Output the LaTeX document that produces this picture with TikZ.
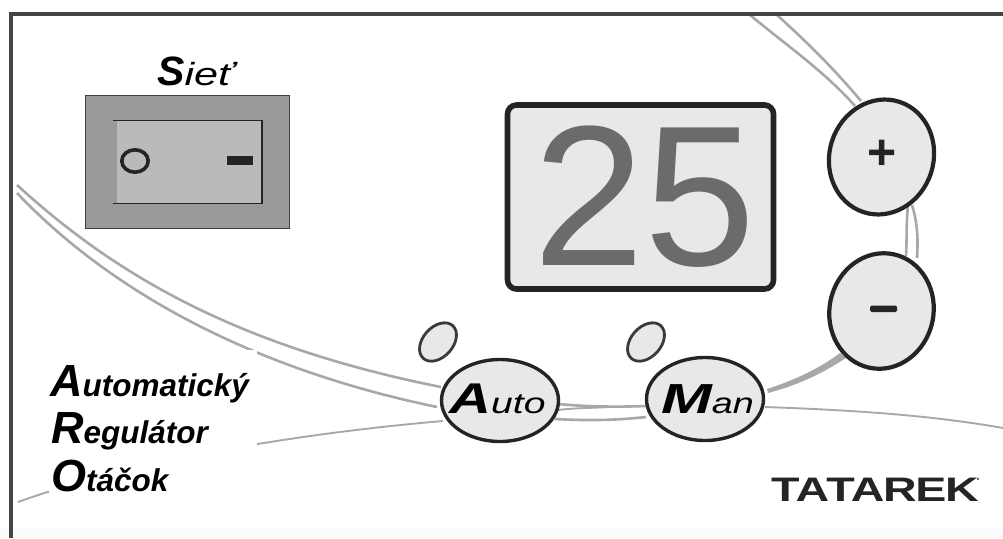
\documentclass[tikz,border=0pt]{standalone}
\usepackage{fontspec}
\setmainfont{Liberation Sans}
\usetikzlibrary{shapes.geometric}
\definecolor{panelgray}{gray}{0.91}
\definecolor{inkdark}{gray}{0.14}
\definecolor{curvegray}{gray}{0.66}
\definecolor{digitgray}{gray}{0.42}
\tikzset{
  frameline/.style={draw=inkdark!85,line width=3.4pt},
  curve/.style={draw=curvegray,line width=2.6pt},
  thincurve/.style={draw=curvegray,line width=1.9pt},
  softkey/.style={draw=inkdark,fill=panelgray,line width=4.2pt,ellipse,inner sep=0pt},
  softkeysmall/.style={softkey,line width=3.4pt},
  lamp/.style={draw=inkdark!90,fill=panelgray,line width=2.8pt},
  lbl/.style={inner sep=0pt,font=\bfseries\itshape,text=black},
}
\begin{document}
\begin{tikzpicture}[x=1pt,y=-1pt]
\useasboundingbox (0,0) rectangle (1003,538);
\fill[black!1.5] (0,528) rectangle (1003,538);
% curves
\draw[curve] (17,185) .. controls (110,270) and (230,345) .. (441,387);
\draw[curve] (17,193) .. controls (90,270) and (220,362) .. (437,407);
\draw[curve] (750,15) .. controls (790,48) and (825,72) .. (855,106);
\draw[curve] (777,15) .. controls (810,45) and (835,70) .. (861,101);
\draw[curve] (908,205) .. controls (906,225) and (907,240) .. (906,256);
\draw[curve] (912,205) .. controls (918,225) and (918,240) .. (917,258);
\fill[curvegray] (767,389) .. controls (795,380) and (820,368) .. (840,353) -- (846,358) .. controls (820,375) and (795,386) .. (768,393) -- cycle;
\draw[curve] (558,404) .. controls (590,407) and (620,407) .. (646,406);
\draw[thincurve] (558,410) .. controls (575,408) and (590,408) .. (610,407);
\draw[curve] (555,419) .. controls (590,421) and (620,420) .. (646,417);
\draw[thincurve] (18,502) .. controls (120,465) and (280,435) .. (443,421);
\draw[thincurve] (765,407) .. controls (850,410) and (930,415) .. (1003,428);
% white patch under the text
\fill[white] (49,350) rectangle (257,500);
% frame
\draw[frameline] (1003,14) -- (11,14) -- (11,538);
% switch
\node[draw=black!75,line width=1.4pt,fill=black!40,minimum width=204pt,minimum height=133pt,inner sep=0pt] (switchbody) at (187.5,162) {};
\node[fill=black!27,minimum width=145pt,minimum height=82pt,inner sep=0pt] (rocker) at (189,162) {};
\draw[inkdark,line width=1.6pt] (113,120.5) -- (262,120.5) -- (262,203.5) -- (113,203.5);
\draw[inkdark,line width=3.6pt,fill=black!27] (135,161) ellipse (13.2pt and 11.2pt);
\fill[inkdark] (227,156) rectangle (253,164.5);
% label
\node[inner sep=0pt,anchor=base west,text=black] (sietlabel) at (157,85) {{\bfseries\itshape\fontsize{41}{41}\selectfont S}\scalebox{1.35}[1]{\itshape\fontsize{32}{32}\selectfont ieť}};
% display
\node[rounded corners=9pt,draw=inkdark,fill=panelgray,line width=5.6pt,minimum width=266pt,minimum height=184pt,inner sep=0pt] (display) at (640.5,197) {};
\node[inner sep=0pt,text=digitgray,font=\fontsize{200}{200}\selectfont,anchor=base] (digits) at (645,265) {25};
% keys
\node[softkey,minimum width=104pt,minimum height=116pt,rotate=-18] (plus) at (881.5,157) {};
\node[softkey,minimum width=104pt,minimum height=116pt,rotate=-12] (minus) at (881.5,311) {};
\node[inner sep=0pt,font=\bfseries\fontsize{50}{50}\selectfont,text=inkdark] (plustext) at (882,155) {+};
\fill[inkdark,rounded corners=1.5pt] (870,305.5) rectangle (897,312);
\node[softkeysmall,minimum width=117pt,minimum height=82pt] (auto) at (500,400.5) {};
\node[softkeysmall,minimum width=117pt,minimum height=83pt] (man) at (705,399) {};
\node[inner sep=0pt,anchor=base west,text=black] (autotext) at (449,413) {\scalebox{1.35}[1]{\bfseries\itshape\fontsize{43}{43}\selectfont A}\scalebox{1.35}[1]{\itshape\fontsize{29}{29}\selectfont uto}};
\node[inner sep=0pt,anchor=base west,text=black] (mantext) at (661,413) {\scalebox{1.45}[1]{\bfseries\itshape\fontsize{42}{42}\selectfont M}\scalebox{1.3}[1]{\itshape\fontsize{29}{29}\selectfont an}};
% lamps
\draw[lamp,rotate around={48:(438,342)}] (438,342) ellipse (22pt and 15pt);
\draw[lamp,rotate around={48:(646,342)}] (646,342) ellipse (22pt and 15pt);
% text block
\node[lbl,anchor=base west] (l1) at (50,396) {{\fontsize{45}{45}\selectfont A}{\fontsize{31.5}{31.5}\selectfont utomatický}};
\node[lbl,anchor=base west] (l2) at (51,443) {{\fontsize{45}{45}\selectfont R}{\fontsize{31.5}{31.5}\selectfont egulátor}};
\node[lbl,anchor=base west] (l3) at (51,491) {{\fontsize{45}{45}\selectfont O}{\fontsize{31.5}{31.5}\selectfont táčok}};
% logo
\node[inner sep=0pt,anchor=base west,text=inkdark] (logo) at (771,501) {\scalebox{1.37}[1]{\bfseries\fontsize{34}{34}\selectfont T\kern-3ptA\kern-2ptT\kern-3ptA\kern-1ptR\kern-1ptE\kern-1ptK}};
\fill[inkdark!70] (978,479) circle (1.4pt);
\end{tikzpicture}
\end{document}
